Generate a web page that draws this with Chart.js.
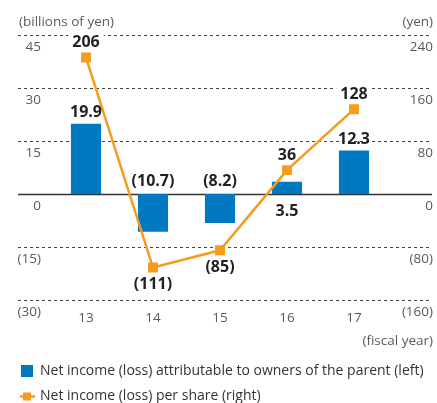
<!DOCTYPE html>
<html>
<head>
<meta charset="utf-8">
<script src="https://cdn.jsdelivr.net/npm/chart.js@4"></script>
<style>
  html, body { margin: 0; padding: 0; background: #fff; }
  #wrap { width: 437px; height: 403px; position: relative; }
</style>
</head>
<body>
<div id="wrap"><canvas id="chart" width="437" height="403"></canvas></div>
<script>
// Données
const years = ['13', '14', '15', '16', '17'];
const netIncome = [19.9, -10.7, -8.2, 3.5, 12.3];      // milliards de yens (gauche)
const perShare = [206, -111, -85, 36, 128];            // yens (droite)
const leftTicks = [45, 30, 15, 0, -15, -30];
const rightTicks = [240, 160, 80, 0, -80, -160];

const BLUE = '#0079c2';
const ORANGE = '#f39c1e';
const FONT = '"Open Sans", "Noto Sans", sans-serif';

const fmt = (v) => (v < 0 ? '(' + Math.abs(v) + ')' : String(v));

const gridLeft = 18, gridRight = 432;

// positions des étiquettes (décalage vertical par rapport au point)
function barLabelY(meta, i) {
  const el = meta.data[i];
  const v = netIncome[i];
  if (v >= 0 && v > 5) return el.y - 11;
  if (v >= 0) return el.base + 17;
  return el.base - 13;
}
function lineLabelY(meta, i) {
  const el = meta.data[i];
  return perShare[i] >= 0 ? el.y - 15 : el.y + 17;
}

const decorPlugin = {
  id: 'decor',
  beforeDatasetsDraw(chart) {
    const ctx = chart.ctx;
    const yL = chart.scales.y;
    const yR = chart.scales.y1;
    ctx.save();
    // grille pointillée
    leftTicks.forEach((t) => {
      const y = Math.round(yL.getPixelForValue(t)) + 0.5;
      ctx.beginPath();
      if (t === 0) {
        ctx.setLineDash([]);
        ctx.strokeStyle = '#333';
        ctx.lineWidth = 1.5;
      } else {
        ctx.setLineDash([3, 3]);
        ctx.strokeStyle = '#444';
        ctx.lineWidth = 1;
      }
      ctx.moveTo(gridLeft, y);
      ctx.lineTo(gridRight, y);
      ctx.stroke();
    });
    ctx.setLineDash([]);

    // trous blancs derrière les étiquettes de la courbe
    ctx.font = 'bold 16px ' + FONT;
    const lm = chart.getDatasetMeta(1);
    perShare.forEach((v, i) => {
      const txt = fmt(v);
      const w = ctx.measureText(txt).width;
      const x = lm.data[i].x;
      const y = lineLabelY(lm, i);
      ctx.fillStyle = '#fff';
      ctx.fillRect(x - w / 2 - 4, y - 8, w + 8, 16);
    });

    // graduations
    ctx.font = '13.5px ' + FONT;
    ctx.fillStyle = '#5a5a5a';
    ctx.textBaseline = 'middle';
    leftTicks.forEach((t) => {
      ctx.textAlign = 'right';
      ctx.fillText(fmt(t), 41, yL.getPixelForValue(t) + 12);
    });
    rightTicks.forEach((t) => {
      ctx.textAlign = 'right';
      ctx.fillText(fmt(t), 433, yR.getPixelForValue(t) + 12);
    });
    const xs = chart.scales.x;
    years.forEach((yr, i) => {
      ctx.textAlign = 'center';
      ctx.fillText(yr, xs.getPixelForValue(i), 318);
    });
    ctx.textAlign = 'left';
    ctx.fillText('(billions of yen)', 19, 22);
    ctx.textAlign = 'right';
    ctx.fillText('(yen)', 433, 22);
    ctx.fillText('(fiscal year)', 433, 341);

    // légende
    ctx.fillStyle = BLUE;
    ctx.fillRect(21, 365, 12, 12);
    ctx.strokeStyle = ORANGE;
    ctx.lineWidth = 2.5;
    ctx.beginPath();
    ctx.moveTo(20, 396.5);
    ctx.lineTo(35, 396.5);
    ctx.stroke();
    ctx.fillStyle = ORANGE;
    ctx.fillRect(23, 392.5, 8, 8);
    ctx.fillStyle = '#333';
    ctx.textAlign = 'left';
    ctx.font = '14px ' + FONT;
    ctx.fillText('Net income (loss) attributable to owners of the parent (left)', 40, 371);
    ctx.fillText('Net income (loss) per share (right)', 40, 396);
    ctx.restore();
  },
  afterDatasetsDraw(chart) {
    const ctx = chart.ctx;
    ctx.save();
    ctx.font = 'bold 16px ' + FONT;
    ctx.fillStyle = '#231f20';
    ctx.textAlign = 'center';
    ctx.textBaseline = 'middle';
    const bm = chart.getDatasetMeta(0);
    netIncome.forEach((v, i) => {
      ctx.fillText(fmt(v), bm.data[i].x, barLabelY(bm, i));
    });
    const lm = chart.getDatasetMeta(1);
    perShare.forEach((v, i) => {
      ctx.fillText(fmt(v), lm.data[i].x, lineLabelY(lm, i));
    });
    ctx.restore();
  }
};

new Chart(document.getElementById('chart').getContext('2d'), {
  type: 'bar',
  data: {
    labels: years,
    datasets: [
      {
        type: 'bar',
        label: 'Net income (loss) attributable to owners of the parent (left)',
        data: netIncome,
        backgroundColor: BLUE,
        yAxisID: 'y',
        categoryPercentage: 1,
        barPercentage: 0.45,
        order: 2,
      },
      {
        type: 'line',
        label: 'Net income (loss) per share (right)',
        data: perShare,
        borderColor: ORANGE,
        borderWidth: 2.5,
        backgroundColor: ORANGE,
        pointStyle: 'rect',
        pointRadius: 7,
        pointBorderWidth: 0,
        tension: 0,
        yAxisID: 'y1',
        order: 1,
      },
    ],
  },
  options: {
    responsive: false,
    animation: false,
    layout: { padding: { left: 52.5, right: 49.5, top: 35, bottom: 103 } },
    plugins: {
      legend: { display: false },
      tooltip: { enabled: false },
    },
    scales: {
      x: { display: false, offset: true, grid: { display: false } },
      y: { display: false, min: -30, max: 45 },
      y1: { display: false, min: -160, max: 240, position: 'right' },
    },
  },
  plugins: [decorPlugin],
});
</script>
</body>
</html>
